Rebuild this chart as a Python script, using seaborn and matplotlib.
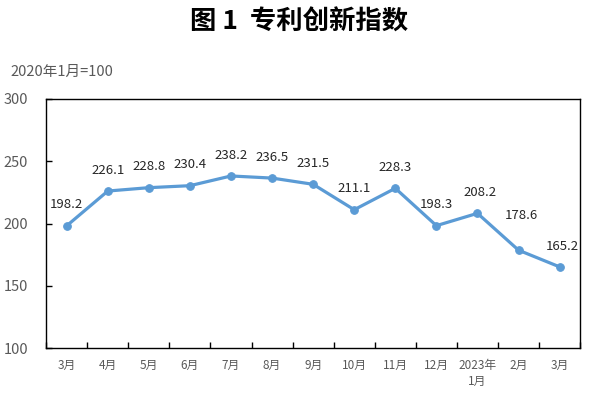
import numpy as np
import pandas as pd
import seaborn as sns
from matplotlib import pyplot as plt

months = ["3月", "4月", "5月", "6月", "7月", "8月", "9月", "10月", "11月", "12月",
          "2023年\n1月", "2月", "3月"]
index_values = [198.2, 226.1, 228.8, 230.4, 238.2, 236.5, 231.5, 211.1, 228.3,
                198.3, 208.2, 178.6, 165.2]
y_ticks = [100, 150, 200, 250, 300]

LINE_COLOR = "#5B9BD5"
GRAY = "#595959"


def main():
    sns.set_style("white")
    plt.rcParams["font.family"] = ["Noto Sans CJK SC", "DejaVu Sans"]

    df = pd.DataFrame({"pos": np.arange(len(months)), "value": index_values})

    fig = plt.figure(figsize=(5.92, 3.96), dpi=100)
    ax = fig.add_axes([0.078, 0.121, 0.902, 0.629])
    sns.lineplot(data=df, x="pos", y="value", ax=ax, color=LINE_COLOR,
                 linewidth=2.3, marker="o", markersize=5.5,
                 markeredgecolor=LINE_COLOR, markerfacecolor=LINE_COLOR)

    # data labels
    for i, v in enumerate(index_values):
        dy = 25 if i == 11 else 15
        ax.annotate(f"{v:.1f}", (i, v), xytext=(2 if i >= 10 else 0, dy),
                    textcoords="offset points", ha="center", va="center",
                    fontsize=9.5, color="#262626")

    ax.set_xlim(-0.5, len(months) - 0.5)
    ax.set_ylim(100, 300)
    ax.set_yticks(y_ticks)
    ax.set_yticklabels([str(t) for t in y_ticks], fontsize=10.5, color=GRAY)
    ax.tick_params(axis="y", direction="in", length=4, width=1, color="black",
                   left=True, pad=13)

    ax.set_xticks(np.arange(-0.5, len(months)), labels=[""] * (len(months) + 1))
    ax.set_xticks(np.arange(len(months)), minor=True)
    ax.set_xticklabels(months, minor=True, fontsize=8.5, color=GRAY,
                       linespacing=1.3)
    ax.tick_params(axis="x", which="major", direction="in", length=4, width=1,
                   color="black", bottom=True)
    ax.tick_params(axis="x", which="minor", length=0, pad=8)
    ax.set_xlabel("")
    ax.set_ylabel("")
    for sp in ax.spines.values():
        sp.set_color("black")
        sp.set_linewidth(1)

    fig.text(0.505, 0.945, "图 1  专利创新指数", ha="center", va="center",
             fontsize=19, fontweight="bold", color="black")
    fig.text(0.017, 0.818, "2020年1月=100", ha="left", va="center",
             fontsize=10.5, color=GRAY)

    fig.savefig("out.png", dpi=100)


if __name__ == "__main__":
    main()
